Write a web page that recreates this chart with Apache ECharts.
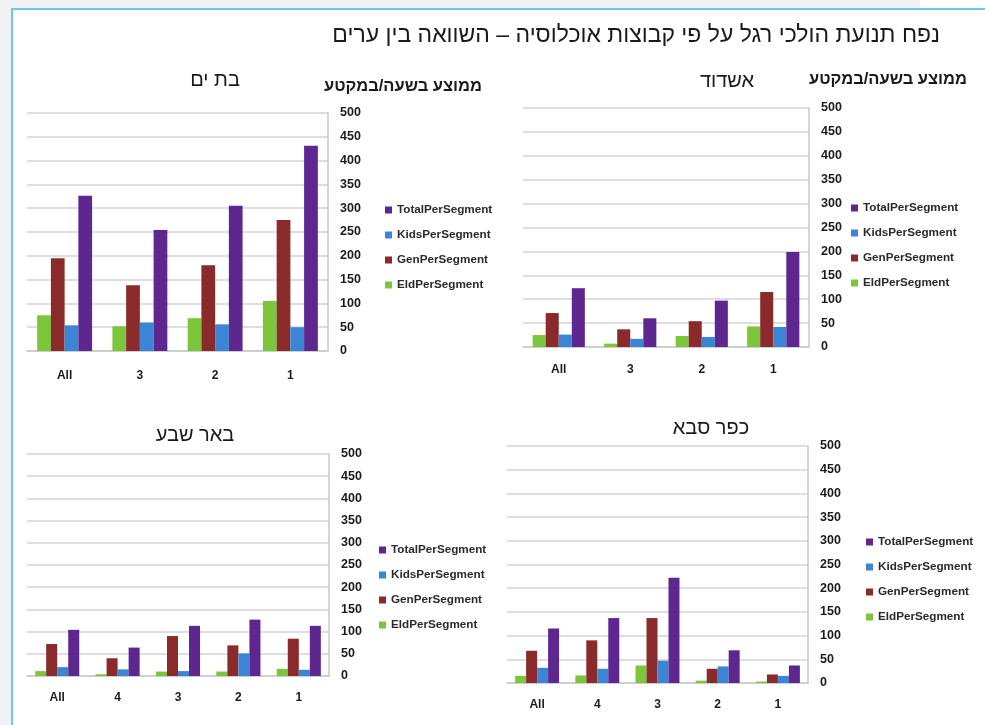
<!DOCTYPE html>
<html>
<head>
<meta charset="utf-8">
<script src="https://cdn.jsdelivr.net/npm/echarts@6/dist/echarts.min.js"></script>
<style>
html,body{margin:0;padding:0;background:#f1f2f4;width:985px;height:725px;overflow:hidden;}
#panel{position:absolute;left:11px;top:8px;width:974px;height:717px;background:#fff;border-top:2px solid #6cc8ea;border-left:2px solid #6cc8ea;box-sizing:border-box;}
#corner{position:absolute;left:920px;top:0;width:65px;height:8px;background:#fff;}
#chart{position:absolute;left:0;top:0;width:985px;height:725px;}
</style>
</head>
<body>
<div id="panel"></div>
<div id="corner"></div>
<div id="chart"></div>
<script>
// ---- data ----
const seriesNames = ['EldPerSegment', 'GenPerSegment', 'KidsPerSegment', 'TotalPerSegment'];
const legendOrder = ['TotalPerSegment', 'KidsPerSegment', 'GenPerSegment', 'EldPerSegment'];
const yTicks = { min: 0, max: 500, interval: 50 };

const batYamCats = ['All', '3', '2', '1'];
const batYamEld = [75, 52, 69, 105];
const batYamGen = [195, 138, 180, 275];
const batYamKids = [54, 60, 56, 50];
const batYamTotal = [326, 254, 305, 431];

const ashdodCats = ['All', '3', '2', '1'];
const ashdodEld = [25, 7, 23, 43];
const ashdodGen = [71, 37, 54, 115];
const ashdodKids = [26, 17, 21, 42];
const ashdodTotal = [123, 60, 97, 199];

const beerShevaCats = ['All', '4', '3', '2', '1'];
const beerShevaEld = [11, 4, 10, 10, 16];
const beerShevaGen = [72, 40, 90, 69, 84];
const beerShevaKids = [20, 15, 11, 51, 14];
const beerShevaTotal = [104, 64, 113, 127, 113];

const kfarSabaCats = ['All', '4', '3', '2', '1'];
const kfarSabaEld = [15, 16, 37, 5, 3];
const kfarSabaGen = [68, 90, 137, 30, 18];
const kfarSabaKids = [32, 30, 47, 35, 15];
const kfarSabaTotal = [115, 137, 222, 69, 37];

const mainTitle = 'נפח תנועת הולכי רגל על פי קבוצות אוכלוסיה – השוואה בין ערים';
const cityTitles = ['בת ים', 'אשדוד', 'באר שבע', 'כפר סבא'];
const axisName = 'ממוצע בשעה/במקטע';

// ---- layout ----
const colors = ['#7cc63c', '#8b2a2a', '#3b85d6', '#5e2790'];
const heb = '"Liberation Sans", "DejaVu Sans", Arial, sans-serif';
const lab = '"Liberation Sans", Arial, sans-serif';

const charts = [
  { cats: batYamCats, vals: [batYamEld, batYamGen, batYamKids, batYamTotal],
    grid: { left: 27, top: 113, width: 301, height: 238 }, catMargin: 19,
    legend: { left: 385, top: 203 } },
  { cats: ashdodCats, vals: [ashdodEld, ashdodGen, ashdodKids, ashdodTotal],
    grid: { left: 523, top: 108, width: 286, height: 239 }, catMargin: 17,
    legend: { left: 851, top: 201 } },
  { cats: beerShevaCats, vals: [beerShevaEld, beerShevaGen, beerShevaKids, beerShevaTotal],
    grid: { left: 27, top: 454, width: 302, height: 222 }, catMargin: 16,
    legend: { left: 379, top: 543 } },
  { cats: kfarSabaCats, vals: [kfarSabaEld, kfarSabaGen, kfarSabaKids, kfarSabaTotal],
    grid: { left: 507, top: 446, width: 301, height: 237 }, catMargin: 16,
    legend: { left: 866, top: 535 } }
];

const grid = [], xAxis = [], yAxis = [], series = [], legend = [];
charts.forEach((c, i) => {
  grid.push(Object.assign({ containLabel: false }, c.grid));
  xAxis.push({
    type: 'category', gridIndex: i, data: c.cats,
    axisLine: { show: true, lineStyle: { color: '#c9c9c9', width: 1.5 } },
    axisTick: { show: false },
    axisLabel: { margin: c.catMargin, color: '#1a1a1a', fontSize: 12, fontWeight: 'bold', fontFamily: lab }
  });
  yAxis.push({
    type: 'value', gridIndex: i, position: 'right',
    min: yTicks.min, max: yTicks.max, interval: yTicks.interval,
    axisLine: { show: true, lineStyle: { color: '#c9c9c9', width: 1.5 } },
    axisTick: { show: false },
    splitLine: { lineStyle: { color: '#d3d3d3', width: 1.5 } },
    axisLabel: { margin: 12, color: '#1a1a1a', fontSize: 12.5, fontWeight: 'bold', fontFamily: lab }
  });
  seriesNames.forEach((n, k) => {
    series.push({
      type: 'bar', name: n, xAxisIndex: i, yAxisIndex: i, data: c.vals[k],
      itemStyle: { color: colors[k] }, barGap: '0%', barCategoryGap: '27%',
      silent: true
    });
  });
  legend.push({
    orient: 'vertical', left: c.legend.left, top: c.legend.top,
    data: legendOrder, icon: 'rect', itemWidth: 7, itemHeight: 7, itemGap: 11,
    selectedMode: false, padding: 0,
    textStyle: { color: '#2a2a2a', fontSize: 11.7, fontWeight: 'bold', fontFamily: lab, lineHeight: 14 }
  });
});

function txt(x, y, s, size, align, weight) {
  return { type: 'text', x: x, y: y, silent: true,
    style: { text: s, fill: '#1a1a1a', font: (weight || 'normal') + ' ' + size + 'px ' + heb,
      textAlign: align, textVerticalAlign: 'middle', verticalAlign: 'middle', align: align } };
}

const graphic = [
  txt(940, 36, mainTitle, 23, 'right'),
  txt(215, 80, cityTitles[0], 20, 'center'),
  txt(727, 81, cityTitles[1], 20, 'center'),
  txt(195, 435, cityTitles[2], 20, 'center'),
  txt(711, 428, cityTitles[3], 20, 'center'),
  txt(482, 86, axisName, 16.5, 'right', 'bold'),
  txt(967, 79, axisName, 16.5, 'right', 'bold')
];

const chart = echarts.init(document.getElementById('chart'));
chart.setOption({
  animation: false,
  backgroundColor: 'transparent',
  grid: grid, xAxis: xAxis, yAxis: yAxis, series: series, legend: legend,
  graphic: graphic
});
</script>
</body>
</html>
